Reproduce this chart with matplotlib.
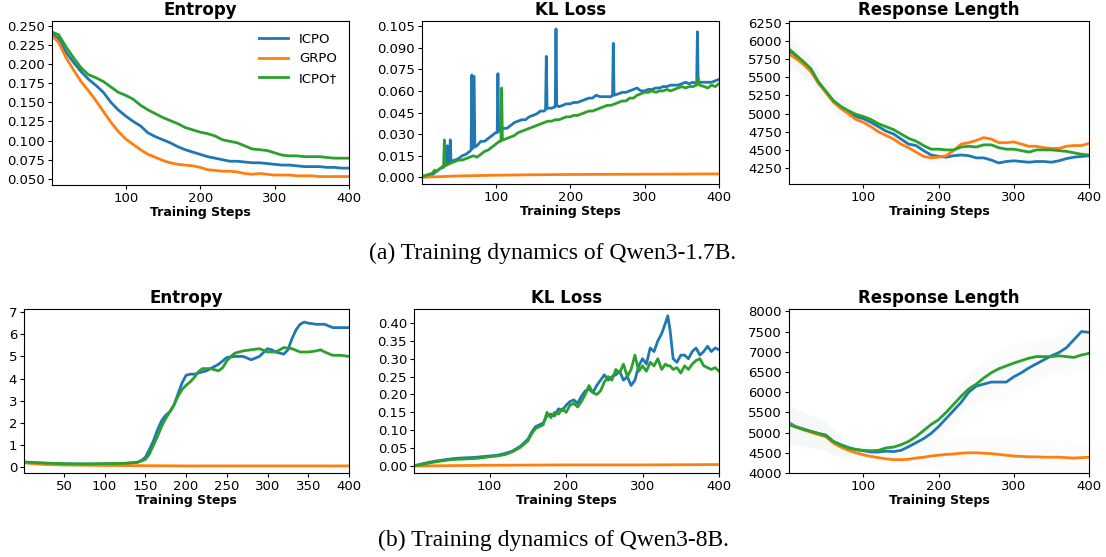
import matplotlib.pyplot as plt
import numpy as np

W, H = 1106, 557

# ---------------- data: Qwen3-1.7B ----------------
steps10 = list(range(0, 401, 10))

ent1_icpo = [0.240, 0.233, 0.215, 0.202, 0.190, 0.180, 0.172, 0.163, 0.150, 0.140,
             0.132, 0.125, 0.119, 0.110, 0.105, 0.101, 0.097, 0.092, 0.088, 0.085,
             0.082, 0.079, 0.077, 0.075, 0.073, 0.073, 0.072, 0.071, 0.071, 0.070,
             0.069, 0.068, 0.068, 0.067, 0.066, 0.066, 0.066, 0.065, 0.065, 0.064, 0.064]
ent1_grpo = [0.238, 0.228, 0.208, 0.192, 0.177, 0.165, 0.152, 0.138, 0.124, 0.112,
             0.102, 0.095, 0.088, 0.082, 0.078, 0.074, 0.071, 0.069, 0.068, 0.067,
             0.065, 0.062, 0.061, 0.060, 0.060, 0.059, 0.057, 0.056, 0.057, 0.056,
             0.055, 0.055, 0.055, 0.054, 0.054, 0.054, 0.053, 0.053, 0.053, 0.053, 0.053]
ent1_icpo2 = [0.242, 0.238, 0.222, 0.208, 0.195, 0.186, 0.182, 0.177, 0.170, 0.163,
              0.159, 0.154, 0.146, 0.140, 0.135, 0.130, 0.126, 0.122, 0.117, 0.114,
              0.111, 0.109, 0.106, 0.101, 0.099, 0.097, 0.093, 0.089, 0.088, 0.087,
              0.084, 0.081, 0.080, 0.080, 0.079, 0.079, 0.079, 0.078, 0.077, 0.077, 0.077]

kl1_icpo_x = [0, 5, 10, 15, 20, 25, 30, 34, 35, 36, 38, 39, 40, 45, 50, 55, 60, 65, 67, 68,
              69, 70, 71, 72, 75, 80, 85, 90, 95, 100, 102, 103, 104, 105, 110, 115, 120, 125,
              130, 135, 140, 145, 150, 155, 160, 165, 167, 168, 169, 175, 180, 181, 182, 185,
              190, 195, 200, 205, 210, 215, 220, 225, 230, 235, 240, 245, 250, 255, 257, 258,
              259, 265, 270, 275, 280, 285, 290, 295, 300, 305, 310, 315, 320, 325, 330, 335,
              340, 345, 350, 355, 360, 365, 370, 371, 372, 375, 380, 385, 390, 395, 400]
kl1_icpo = [0.001, 0.001, 0.002, 0.002, 0.004, 0.006, 0.008, 0.009, 0.022, 0.009, 0.010, 0.026,
            0.011, 0.012, 0.013, 0.015, 0.016, 0.018, 0.019, 0.071, 0.020, 0.070, 0.070, 0.021,
            0.022, 0.025, 0.025, 0.027, 0.029, 0.031, 0.031, 0.072, 0.032, 0.032, 0.034, 0.034,
            0.036, 0.038, 0.039, 0.040, 0.040, 0.042, 0.043, 0.044, 0.046, 0.046, 0.047, 0.084,
            0.048, 0.048, 0.049, 0.103, 0.050, 0.049, 0.050, 0.051, 0.051, 0.052, 0.052, 0.053,
            0.054, 0.055, 0.055, 0.057, 0.056, 0.056, 0.056, 0.056, 0.057, 0.093, 0.057, 0.058,
            0.059, 0.059, 0.060, 0.061, 0.062, 0.060, 0.060, 0.061, 0.061, 0.062, 0.062, 0.063,
            0.063, 0.064, 0.064, 0.064, 0.065, 0.066, 0.065, 0.066, 0.065, 0.101, 0.066, 0.066,
            0.066, 0.066, 0.066, 0.067, 0.068]
kl1_icpo2_x = [0, 5, 10, 15, 18, 20, 25, 30, 31, 32, 35, 40, 45, 50, 55, 60, 65, 70, 75, 80,
               85, 90, 95, 100, 105, 107, 108, 109, 110, 115, 120, 125, 130, 135, 140, 145, 150,
               155, 160, 165, 170, 175, 180, 185, 190, 195, 200, 205, 210, 215, 220, 225, 230,
               235, 240, 245, 250, 255, 260, 265, 270, 275, 280, 285, 290, 295, 300, 305, 310,
               315, 320, 325, 330, 335, 340, 345, 350, 355, 360, 365, 370, 372, 374, 380, 385,
               390, 395, 400]
kl1_icpo2 = [0.001, 0.001, 0.002, 0.003, 0.005, 0.004, 0.006, 0.007, 0.026, 0.008, 0.009, 0.010,
             0.011, 0.012, 0.012, 0.013, 0.014, 0.015, 0.014, 0.016, 0.018, 0.019, 0.021, 0.023,
             0.025, 0.025, 0.062, 0.026, 0.026, 0.027, 0.028, 0.029, 0.031, 0.032, 0.033, 0.034,
             0.035, 0.036, 0.037, 0.038, 0.039, 0.039, 0.040, 0.040, 0.041, 0.042, 0.042, 0.043,
             0.043, 0.044, 0.045, 0.046, 0.046, 0.047, 0.048, 0.049, 0.050, 0.050, 0.051, 0.052,
             0.053, 0.053, 0.055, 0.055, 0.057, 0.058, 0.059, 0.059, 0.060, 0.059, 0.060, 0.060,
             0.061, 0.060, 0.061, 0.062, 0.063, 0.062, 0.063, 0.063, 0.064, 0.069, 0.064, 0.063,
             0.062, 0.064, 0.063, 0.065]
kl1_grpo_x = [0, 50, 100, 150, 200, 250, 300, 350, 400]
kl1_grpo = [0.0000, 0.0010, 0.0015, 0.0018, 0.0020, 0.0021, 0.0022, 0.0023, 0.0024]

rl1_icpo = [5880, 5800, 5700, 5610, 5430, 5300, 5170, 5080, 5020, 4960, 4930, 4880, 4820, 4760,
            4720, 4650, 4580, 4560, 4490, 4430, 4410, 4400, 4420, 4430, 4420, 4390, 4390, 4360,
            4320, 4340, 4350, 4340, 4330, 4340, 4340, 4330, 4350, 4380, 4400, 4410, 4420]
rl1_grpo = [5830, 5760, 5680, 5580, 5420, 5290, 5160, 5070, 5000, 4920, 4880, 4820, 4750, 4700,
            4650, 4580, 4530, 4470, 4410, 4390, 4400, 4420, 4490, 4580, 4600, 4630, 4670, 4650,
            4600, 4600, 4610, 4580, 4550, 4550, 4530, 4520, 4520, 4550, 4560, 4560, 4590]
rl1_icpo2 = [5900, 5810, 5720, 5620, 5440, 5310, 5180, 5100, 5040, 4990, 4960, 4920, 4860, 4820,
             4780, 4720, 4660, 4620, 4560, 4510, 4510, 4500, 4500, 4540, 4550, 4540, 4570, 4570,
             4530, 4510, 4510, 4490, 4470, 4500, 4500, 4500, 4490, 4480, 4460, 4440, 4430]
rl1_band = [220, 200, 180, 160, 150, 140, 130, 120, 110, 110, 100, 100, 100, 100, 100, 100, 100,
            100, 100, 100, 100, 100, 100, 100, 100, 100, 100, 100, 100, 100, 100, 100, 100, 100,
            100, 100, 100, 100, 100, 100, 100]

# ---------------- data: Qwen3-8B ----------------
ent2_icpo_x = [0, 25, 50, 75, 100, 125, 140, 145, 150, 155, 160, 165, 170, 175, 180, 185, 190,
               195, 200, 205, 210, 215, 220, 225, 230, 235, 240, 245, 250, 260, 270, 280, 290,
               300, 305, 310, 315, 320, 325, 330, 335, 340, 345, 350, 360, 370, 380, 390, 400]
ent2_icpo = [0.22, 0.18, 0.15, 0.14, 0.15, 0.17, 0.22, 0.30, 0.45, 0.80, 1.20, 1.70, 2.10, 2.35,
             2.50, 2.80, 3.30, 3.80, 4.15, 4.20, 4.20, 4.25, 4.30, 4.35, 4.45, 4.55, 4.65, 4.80,
             4.95, 5.00, 5.00, 4.85, 5.00, 5.35, 5.30, 5.20, 5.15, 5.10, 5.30, 5.80, 6.20, 6.45,
             6.55, 6.50, 6.45, 6.45, 6.30, 6.30, 6.30]
ent2_icpo2_x = [0, 25, 50, 75, 100, 125, 140, 150, 155, 160, 165, 170, 175, 180, 185, 190, 195,
                200, 205, 210, 215, 220, 225, 230, 235, 240, 245, 250, 255, 260, 270, 280, 290,
                300, 310, 320, 330, 340, 350, 360, 365, 370, 380, 390, 400]
ent2_icpo2 = [0.24, 0.19, 0.16, 0.15, 0.16, 0.18, 0.22, 0.35, 0.60, 1.00, 1.40, 1.85, 2.20, 2.50,
              2.80, 3.20, 3.50, 3.70, 3.85, 4.05, 4.30, 4.45, 4.45, 4.45, 4.40, 4.35, 4.50, 4.80,
              5.00, 5.15, 5.25, 5.30, 5.35, 5.20, 5.20, 5.40, 5.35, 5.20, 5.20, 5.25, 5.30, 5.20,
              5.05, 5.05, 5.00]
ent2_grpo_x = [0, 25, 50, 100, 150, 200, 300, 400]
ent2_grpo = [0.20, 0.13, 0.10, 0.08, 0.07, 0.06, 0.06, 0.06]

kl2_x = [0, 10, 20, 30, 40, 50, 60, 70, 80, 90, 100, 110, 120, 130, 140, 150, 155, 160, 165,
         170, 175, 180, 185, 190, 195, 200, 205, 210, 215, 220, 225, 230, 235, 240, 245, 250,
         255, 260, 265, 270, 275, 280, 285, 290, 295, 300, 305, 310, 315, 320, 325, 330, 333,
         336, 340, 345, 350, 355, 360, 365, 370, 375, 380, 385, 390, 395, 400]
kl2_icpo = [0.000, 0.005, 0.010, 0.014, 0.017, 0.020, 0.022, 0.023, 0.024, 0.026, 0.028, 0.030,
            0.035, 0.042, 0.055, 0.075, 0.095, 0.110, 0.115, 0.120, 0.140, 0.145, 0.140, 0.160,
            0.155, 0.170, 0.180, 0.185, 0.175, 0.195, 0.210, 0.215, 0.205, 0.225, 0.240, 0.255,
            0.240, 0.250, 0.255, 0.265, 0.240, 0.250, 0.225, 0.240, 0.280, 0.300, 0.285, 0.330,
            0.320, 0.350, 0.370, 0.400, 0.420, 0.380, 0.300, 0.290, 0.310, 0.310, 0.300, 0.320,
            0.330, 0.310, 0.320, 0.335, 0.320, 0.330, 0.325]
kl2_icpo2 = [0.000, 0.004, 0.008, 0.012, 0.015, 0.018, 0.019, 0.020, 0.021, 0.023, 0.026, 0.028,
             0.032, 0.040, 0.052, 0.070, 0.090, 0.105, 0.110, 0.115, 0.150, 0.135, 0.150, 0.145,
             0.160, 0.150, 0.170, 0.175, 0.165, 0.180, 0.200, 0.225, 0.205, 0.200, 0.210, 0.235,
             0.250, 0.240, 0.270, 0.260, 0.285, 0.250, 0.270, 0.310, 0.265, 0.280, 0.265, 0.290,
             0.280, 0.300, 0.270, 0.285, 0.280, 0.280, 0.270, 0.275, 0.260, 0.280, 0.270, 0.285,
             0.295, 0.300, 0.280, 0.275, 0.270, 0.275, 0.265]
kl2_grpo_x = [0, 100, 200, 300, 400]
kl2_grpo = [0.000, 0.002, 0.003, 0.003, 0.004]

rl2_icpo = [5250, 5150, 5090, 5030, 4980, 4940, 4780, 4700, 4630, 4580, 4550, 4520, 4520, 4540,
            4530, 4560, 4650, 4750, 4850, 4980, 5150, 5350, 5550, 5750, 6000, 6150, 6200, 6250,
            6250, 6250, 6380, 6480, 6600, 6700, 6800, 6900, 6980, 7100, 7300, 7500, 7480]
rl2_grpo = [5220, 5140, 5070, 5010, 4950, 4900, 4740, 4640, 4560, 4500, 4450, 4410, 4380, 4350,
            4330, 4330, 4340, 4370, 4390, 4420, 4440, 4460, 4470, 4490, 4500, 4500, 4490, 4480,
            4460, 4440, 4420, 4410, 4400, 4400, 4390, 4390, 4390, 4380, 4370, 4380, 4390]
rl2_icpo2 = [5200, 5140, 5080, 5030, 4980, 4920, 4780, 4690, 4620, 4580, 4560, 4550, 4560, 4620,
             4640, 4700, 4780, 4900, 5050, 5200, 5320, 5500, 5700, 5900, 6080, 6200, 6350, 6480,
             6580, 6650, 6720, 6780, 6840, 6880, 6880, 6880, 6900, 6880, 6860, 6920, 6960]
rl2_band = [480, 450, 420, 400, 380, 350, 300, 250, 200, 150, 120, 110, 110, 120, 150, 180, 220,
            260, 300, 330, 350, 380, 400, 420, 430, 440, 450, 460, 460, 460, 460, 460, 460, 460,
            450, 440, 430, 420, 400, 380, 360]

colors = {"ICPO": "#1f77b4", "GRPO": "#ff7f0e", "ICPO\u2020": "#2ca02c"}

fig = plt.figure(figsize=(W / 100, H / 100), dpi=100)


def make_ax(left, right, top, bottom):
    return fig.add_axes([left / W, 1 - bottom / H, (right - left) / W, (bottom - top) / H])


def style(ax, title, ylim, yticks, fmt, xticks=(100, 200, 300, 400)):
    ax.set_title(title, fontsize=12, fontweight="bold", pad=4)
    ax.set_xlabel("Training Steps", fontsize=9, fontweight="bold", labelpad=1)
    ax.set_xlim(1, 400)
    ax.set_ylim(*ylim)
    ax.set_xticks(xticks)
    ax.set_yticks(yticks)
    ax.set_yticklabels([fmt.format(v) for v in yticks])
    ax.tick_params(labelsize=9.5, pad=2, length=3)


lw = 2.0

# row (a)
ax = make_ax(52, 349, 21, 185)
ax.plot(steps10, ent1_icpo, color=colors["ICPO"], lw=lw, label="ICPO")
ax.plot(steps10, ent1_grpo, color=colors["GRPO"], lw=lw, label="GRPO")
ax.plot(steps10, ent1_icpo2, color=colors["ICPO\u2020"], lw=lw, label="ICPO\u2020")
style(ax, "Entropy", (0.042, 0.256), np.arange(0.050, 0.2501, 0.025), "{:.3f}")
ax.legend(frameon=False, fontsize=9.5, loc="upper right", handlelength=2.2)

ax = make_ax(422, 719, 21, 184)
ax.plot(kl1_icpo_x, kl1_icpo, color=colors["ICPO"], lw=lw)
ax.plot(kl1_grpo_x, kl1_grpo, color=colors["GRPO"], lw=lw)
ax.plot(kl1_icpo2_x, kl1_icpo2, color=colors["ICPO\u2020"], lw=lw)
style(ax, "KL Loss", (-0.0046, 0.1085), np.arange(0, 0.1051, 0.015), "{:.3f}")

ax = make_ax(789, 1089, 21, 184)
for ys in (rl1_icpo, rl1_grpo, rl1_icpo2):
    lo = [y - b for y, b in zip(ys, rl1_band)]
    hi = [y + b for y, b in zip(ys, rl1_band)]
    ax.fill_between(steps10, lo, hi, color="#dfe6e6", alpha=0.09, lw=0)
ax.plot(steps10, rl1_icpo, color=colors["ICPO"], lw=lw)
ax.plot(steps10, rl1_grpo, color=colors["GRPO"], lw=lw)
ax.plot(steps10, rl1_icpo2, color=colors["ICPO\u2020"], lw=lw)
style(ax, "Response Length", (4030, 6277), np.arange(4250, 6251, 250), "{:.0f}")

# row (b)
ax = make_ax(24, 349, 309, 473)
ax.plot(ent2_icpo_x, ent2_icpo, color=colors["ICPO"], lw=lw)
ax.plot(ent2_grpo_x, ent2_grpo, color=colors["GRPO"], lw=lw)
ax.plot(ent2_icpo2_x, ent2_icpo2, color=colors["ICPO\u2020"], lw=lw)
style(ax, "Entropy", (-0.26, 7.14), np.arange(0, 8), "{:.0f}",
      xticks=(50, 100, 150, 200, 250, 300, 350, 400))

ax = make_ax(414, 719, 309, 473)
ax.plot(kl2_x, kl2_icpo, color=colors["ICPO"], lw=lw)
ax.plot(kl2_grpo_x, kl2_grpo, color=colors["GRPO"], lw=lw)
ax.plot(kl2_x, kl2_icpo2, color=colors["ICPO\u2020"], lw=lw)
style(ax, "KL Loss", (-0.0196, 0.439), np.arange(0, 0.401, 0.05), "{:.2f}")

ax = make_ax(789, 1089, 309, 473)
for ys in (rl2_icpo, rl2_grpo, rl2_icpo2):
    lo = [y - b for y, b in zip(ys, rl2_band)]
    hi = [y + b for y, b in zip(ys, rl2_band)]
    ax.fill_between(steps10, lo, hi, color="#dfe6e6", alpha=0.09, lw=0)
ax.plot(steps10, rl2_icpo, color=colors["ICPO"], lw=lw)
ax.plot(steps10, rl2_grpo, color=colors["GRPO"], lw=lw)
ax.plot(steps10, rl2_icpo2, color=colors["ICPO\u2020"], lw=lw)
style(ax, "Response Length", (4000, 8058), np.arange(4000, 8001, 500), "{:.0f}")

# captions
fig.text(0.5, 1 - 253 / H, "(a) Training dynamics of Qwen3-1.7B.", ha="center", va="center",
         fontsize=17, family="Liberation Serif")
fig.text(0.5, 1 - 540 / H, "(b) Training dynamics of Qwen3-8B.", ha="center", va="center",
         fontsize=17, family="Liberation Serif")

fig.savefig("out.png", dpi=100)
